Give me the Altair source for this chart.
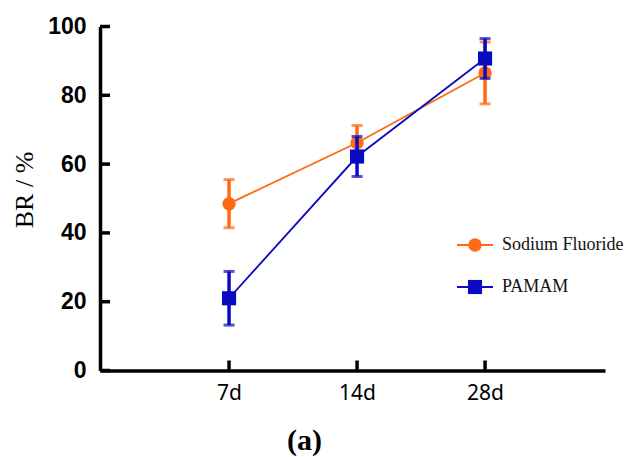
import altair as alt
import pandas as pd

days = ["7d", "14d", "28d"]
series = ["Sodium Fluoride", "PAMAM"]
colors = ["#FF6A13", "#0A0AC2"]
shapes = ["circle", "square"]
nf_mean = [48.5, 66.2, 86.5]
nf_err = [7.0, 5.0, 9.0]
pamam_mean = [21.0, 62.2, 90.7]
pamam_err = [7.8, 5.8, 5.8]
y_ticks = [0, 20, 40, 60, 80, 100]

means = [nf_mean, pamam_mean]
errs = [nf_err, pamam_err]

W, H = 505, 344

label_expr = " : ".join(
    [f"datum.value == {i + 1} ? '{d}'" for i, d in enumerate(days)] + ["''"]
)

x_axis = alt.Axis(
    values=[1, 2, 3], labelExpr=label_expr, ticks=False, grid=False,
    domainColor="black", domainWidth=3.5, labelFont="Noto Sans", labelFontSize=21,
    labelColor="black", labelPadding=12,
    title="(a)", titleFont="Liberation Serif", titleFontSize=30, titleFontWeight="bold",
    titleColor="black", titleX=204, titleY=79, titleAlign="center", titleBaseline="alphabetic",
)
y_axis = alt.Axis(
    values=y_ticks, ticks=False, grid=False, domainColor="black", domainWidth=3.5,
    labelFont="Liberation Sans", labelFontSize=23, labelFontWeight="bold", labelColor="black",
    labelPadding=14, title="BR / %", titleFont="Liberation Serif", titleFontSize=26,
    titleFontWeight="normal", titleColor="black", titleX=-76, titleY=163, titleAlign="center",
    titleBaseline="middle",
)
yscale = alt.Scale(domain=[0, 100], nice=False)
x_enc = alt.X("x:Q", scale=alt.Scale(domain=[-0.008, 3.937], nice=False, zero=False), axis=x_axis)
y_enc = alt.Y("y:Q", scale=yscale, axis=y_axis)

layers = []
for s, name in enumerate(series):
    df = pd.DataFrame({
        "x": [i + 1 for i in range(len(days))],
        "y": means[s],
        "lo": [m - e for m, e in zip(means[s], errs[s])],
        "hi": [m + e for m, e in zip(means[s], errs[s])],
        "series": name,
    })
    c = colors[s]
    base = alt.Chart(df)
    layers.append(base.mark_line(color=c, strokeWidth=1.8).encode(x=x_enc, y=y_enc))
    layers.append(base.mark_rule(color=c, strokeWidth=3.5).encode(
        x=x_enc, y=alt.Y("lo:Q", scale=yscale, axis=y_axis), y2="hi:Q"))
    layers.append(base.mark_tick(color=c, orient="horizontal", size=11, thickness=3).encode(
        x=x_enc, y=alt.Y("lo:Q", scale=yscale, axis=y_axis)))
    layers.append(base.mark_tick(color=c, orient="horizontal", size=11, thickness=3).encode(
        x=x_enc, y=alt.Y("hi:Q", scale=yscale, axis=y_axis)))
    layers.append(base.mark_point(color=c, filled=True, opacity=1, shape=shapes[s],
                                  size=180 if shapes[s] == "circle" else 200).encode(x=x_enc, y=y_enc))

# inward axis ticks
yt = pd.DataFrame({"y": y_ticks})
layers.append(alt.Chart(yt).mark_rule(color="black", strokeWidth=3.5).encode(
    y=y_enc, x=alt.value(0), x2=alt.value(10)))
xt = pd.DataFrame({"x": [i + 1 for i in range(len(days))]})
layers.append(alt.Chart(xt).mark_rule(color="black", strokeWidth=3.5).encode(
    x=x_enc, y=alt.value(H - 10), y2=alt.value(H)))

# legend
for s, name in enumerate(series):
    ldf = pd.DataFrame({"series": [name]})
    ly = 218.5 + 42 * s
    lb = alt.Chart(ldf)
    layers.append(lb.mark_rule(color=colors[s], strokeWidth=1.8).encode(
        x=alt.value(357), x2=alt.value(393), y=alt.value(ly)))
    layers.append(lb.mark_point(color=colors[s], filled=True, opacity=1, shape=shapes[s],
                                size=180 if shapes[s] == "circle" else 200).encode(
        x=alt.value(375), y=alt.value(ly)))
    layers.append(lb.mark_text(align="left", baseline="middle", font="Liberation Serif",
                               fontSize=18, color="#111").encode(
        x=alt.value(402), y=alt.value(ly), text="series:N"))

chart = alt.layer(*layers).properties(
    width=W, height=H,
    autosize=alt.AutoSizeParams(type="none"),
    padding={"left": 92, "top": 18.5, "right": 23, "bottom": 86},
    background="white",
).configure_view(stroke=None).configure_axis(domainWidth=3.5, domainColor="black")

chart.save("out.html", embed_options={"renderer": "svg", "actions": False})
